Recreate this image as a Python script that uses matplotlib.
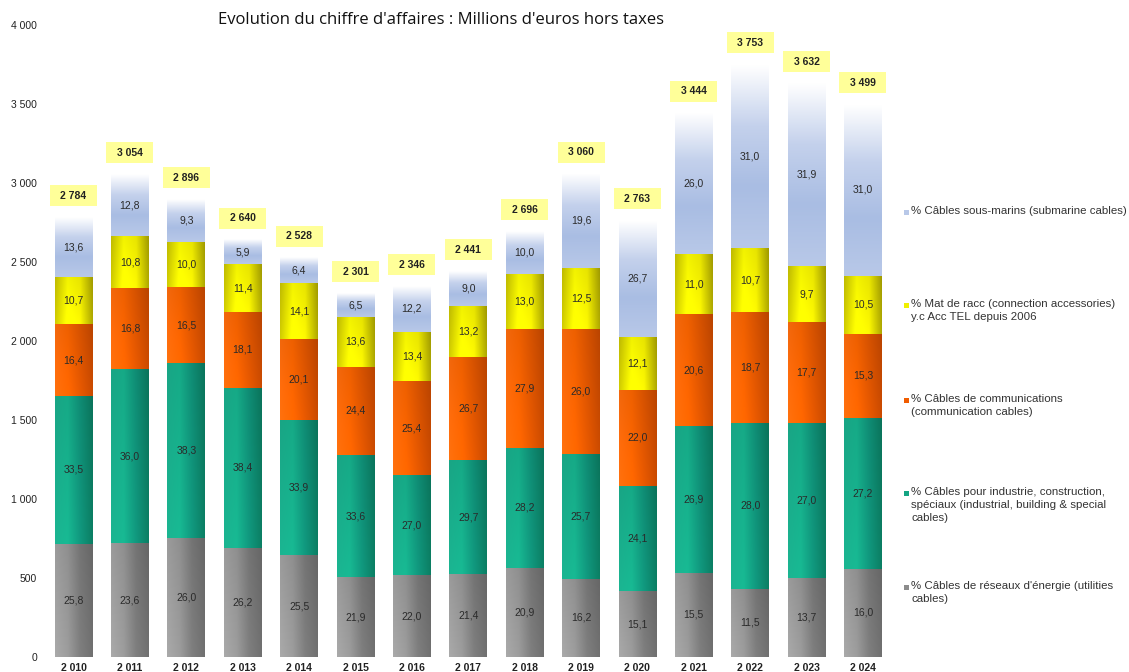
import numpy as np
import matplotlib
matplotlib.use("Agg")
import matplotlib.pyplot as plt
from matplotlib.patches import Rectangle
from matplotlib.colors import to_rgb

years = ["2 010", "2 011", "2 012", "2 013", "2 014", "2 015", "2 016", "2 017",
         "2 018", "2 019", "2 020", "2 021", "2 022", "2 023", "2 024"]
totals = [2784, 3054, 2896, 2640, 2528, 2301, 2346, 2441, 2696, 3060, 2763, 3444, 3753, 3632, 3499]
total_labels = ["2 784", "3 054", "2 896", "2 640", "2 528", "2 301", "2 346", "2 441",
                "2 696", "3 060", "2 763", "3 444", "3 753", "3 632", "3 499"]
pct_energy = [25.8, 23.6, 26.0, 26.2, 25.5, 21.9, 22.0, 21.4, 20.9, 16.2, 15.1, 15.5, 11.5, 13.7, 16.0]
pct_industrial = [33.5, 36.0, 38.3, 38.4, 33.9, 33.6, 27.0, 29.7, 28.2, 25.7, 24.1, 26.9, 28.0, 27.0, 27.2]
pct_comm = [16.4, 16.8, 16.5, 18.1, 20.1, 24.4, 25.4, 26.7, 27.9, 26.0, 22.0, 20.6, 18.7, 17.7, 15.3]
pct_access = [10.7, 10.8, 10.0, 11.4, 14.1, 13.6, 13.4, 13.2, 13.0, 12.5, 12.1, 11.0, 10.7, 9.7, 10.5]
pct_submarine = [13.6, 12.8, 9.3, 5.9, 6.4, 6.5, 12.2, 9.0, 10.0, 19.6, 26.7, 26.0, 31.0, 31.9, 31.0]

series_labels = [
    "% Câbles de réseaux d'énergie (utilities\ncables)",
    "% Câbles pour industrie, construction,\nspéciaux (industrial, building & special\ncables)",
    "% Câbles de communications\n(communication cables)",
    "% Mat de racc (connection accessories)\ny.c Acc TEL depuis 2006",
    "% Câbles sous-marins (submarine cables)",
]
yticks = [0, 500, 1000, 1500, 2000, 2500, 3000, 3500, 4000]
ytick_labels = ["0", "500", "1 000", "1 500", "2 000", "2 500", "3 000", "3 500", "4 000"]
title = "Evolution du chiffre d'affaires : Millions d'euros hors taxes"

# horizontal gradient stops (left -> right) per series
h_stops = [
    ["#a3a3a3", "#979797", "#7a7a7a", "#6c6c6c"],
    ["#1aae8c", "#17b38e", "#10937a", "#0b7a60"],
    ["#ff6d0d", "#fb6500", "#e05600", "#c44800"],
    ["#c9c400", "#ffff00", "#f4f000", "#a9a300"],
    None,
]
v_sub = ["#b8c8e8", "#a9bde3", "#c4d1ec", "#ffffff"]  # bottom -> top
flat_cols = ["#8c8c8c", "#14a583", "#f05c00", "#f0f000", "#b8c8e8"]

plt.rcParams["font.family"] = ["Liberation Sans", "DejaVu Sans"]

fig = plt.figure(figsize=(11.29, 6.72), dpi=100)
W, H = 1129, 672
x_left_px, x_right_px = 39.7, 896.8
y_top_px, y_bot_px = 25, 657
ax = fig.add_axes([x_left_px / W, (H - y_bot_px) / H,
                   (x_right_px - x_left_px) / W, (y_bot_px - y_top_px) / H])

x = np.arange(len(years))
bw = 0.67
totals_arr = np.array(totals, dtype=float)
all_pcts = [pct_energy, pct_industrial, pct_comm, pct_access, pct_submarine]


def interp_colors(stops, n):
    cols = np.array([to_rgb(c) for c in stops])
    t = np.linspace(0, 1, len(stops))
    tt = np.linspace(0, 1, n)
    return np.stack([np.interp(tt, t, cols[:, k]) for k in range(3)], axis=-1)


bottom = np.zeros(len(years))
for si, pcts in enumerate(all_pcts):
    vals = totals_arr * np.array(pcts) / 100.0
    ax.bar(x, vals, bw, bottom=bottom, color=flat_cols[si], zorder=1)
    for i in range(len(years)):
        x0, x1 = x[i] - bw / 2, x[i] + bw / 2
        y0, y1 = bottom[i], bottom[i] + vals[i]
        if h_stops[si] is not None:
            row = interp_colors(h_stops[si], 64)
            img = np.repeat(row[None, :, :], 32, axis=0)
            shade = np.linspace(1.04, 0.95, 32)[:, None, None]
            img = np.clip(img * shade, 0, 1)
        else:
            col = interp_colors(v_sub, 64)
            img = np.repeat(col[:, None, :], 8, axis=1)
        ax.imshow(img, extent=[x0, x1, y0, y1], aspect="auto", origin="lower",
                  interpolation="bilinear", zorder=2)
        ax.text(x[i], (y0 + y1) / 2, f"{pcts[i]:.1f}".replace(".", ","),
                ha="center", va="center", fontsize=7.5, color="#2a2a2a", zorder=4)
    bottom = bottom + vals

# total labels in yellow boxes
px_per_unit = (y_bot_px - y_top_px) / 4000.0
box_h = 21 / px_per_unit
box_w = 47 / 56.4
gap = 11 / px_per_unit
for i in range(len(years)):
    cy = totals_arr[i] + gap + box_h / 2
    ax.add_patch(Rectangle((x[i] - box_w / 2, cy - box_h / 2), box_w, box_h,
                           facecolor="#ffff99", edgecolor="none", zorder=3, clip_on=False))
    ax.text(x[i], cy, total_labels[i], ha="center", va="center", fontsize=7.5,
            fontweight="bold", color="#222222", zorder=4, clip_on=False)

ax.set_xlim(-0.6, 14.6)
ax.set_ylim(0, 4000)
ax.set_yticks(yticks)
ax.set_yticklabels(ytick_labels, fontsize=7.5, color="#222222")
ax.set_xticks(x)
ax.set_xticklabels(years, fontsize=7.5, fontweight="bold", color="#222222")
ax.tick_params(axis="y", length=0, pad=2)
ax.tick_params(axis="x", length=0, pad=4)
for s in ax.spines.values():
    s.set_visible(False)

fig.text(441 / W, 1 - 20 / H, title, ha="center", va="center", fontsize=12,
         family=["Open Sans", "DejaVu Sans"], color="#111111")

# legend (top to bottom: submarine, access, comm, industrial, energy)
leg_order = [4, 3, 2, 1, 0]
leg_y = [212, 305, 400, 493, 587]
for k, si in enumerate(leg_order):
    yp = leg_y[k]
    fig.patches.append(Rectangle((904 / W, 1 - (yp + 3) / H), 5 / W, 5 / H,
                                 transform=fig.transFigure, facecolor=flat_cols[si],
                                 edgecolor="none"))
    fig.text(911 / W, 1 - (yp - 6) / H, series_labels[si], ha="left", va="top",
             fontsize=8.25, color="#333333", linespacing=1.4)

fig.savefig("out.png", dpi=100)
